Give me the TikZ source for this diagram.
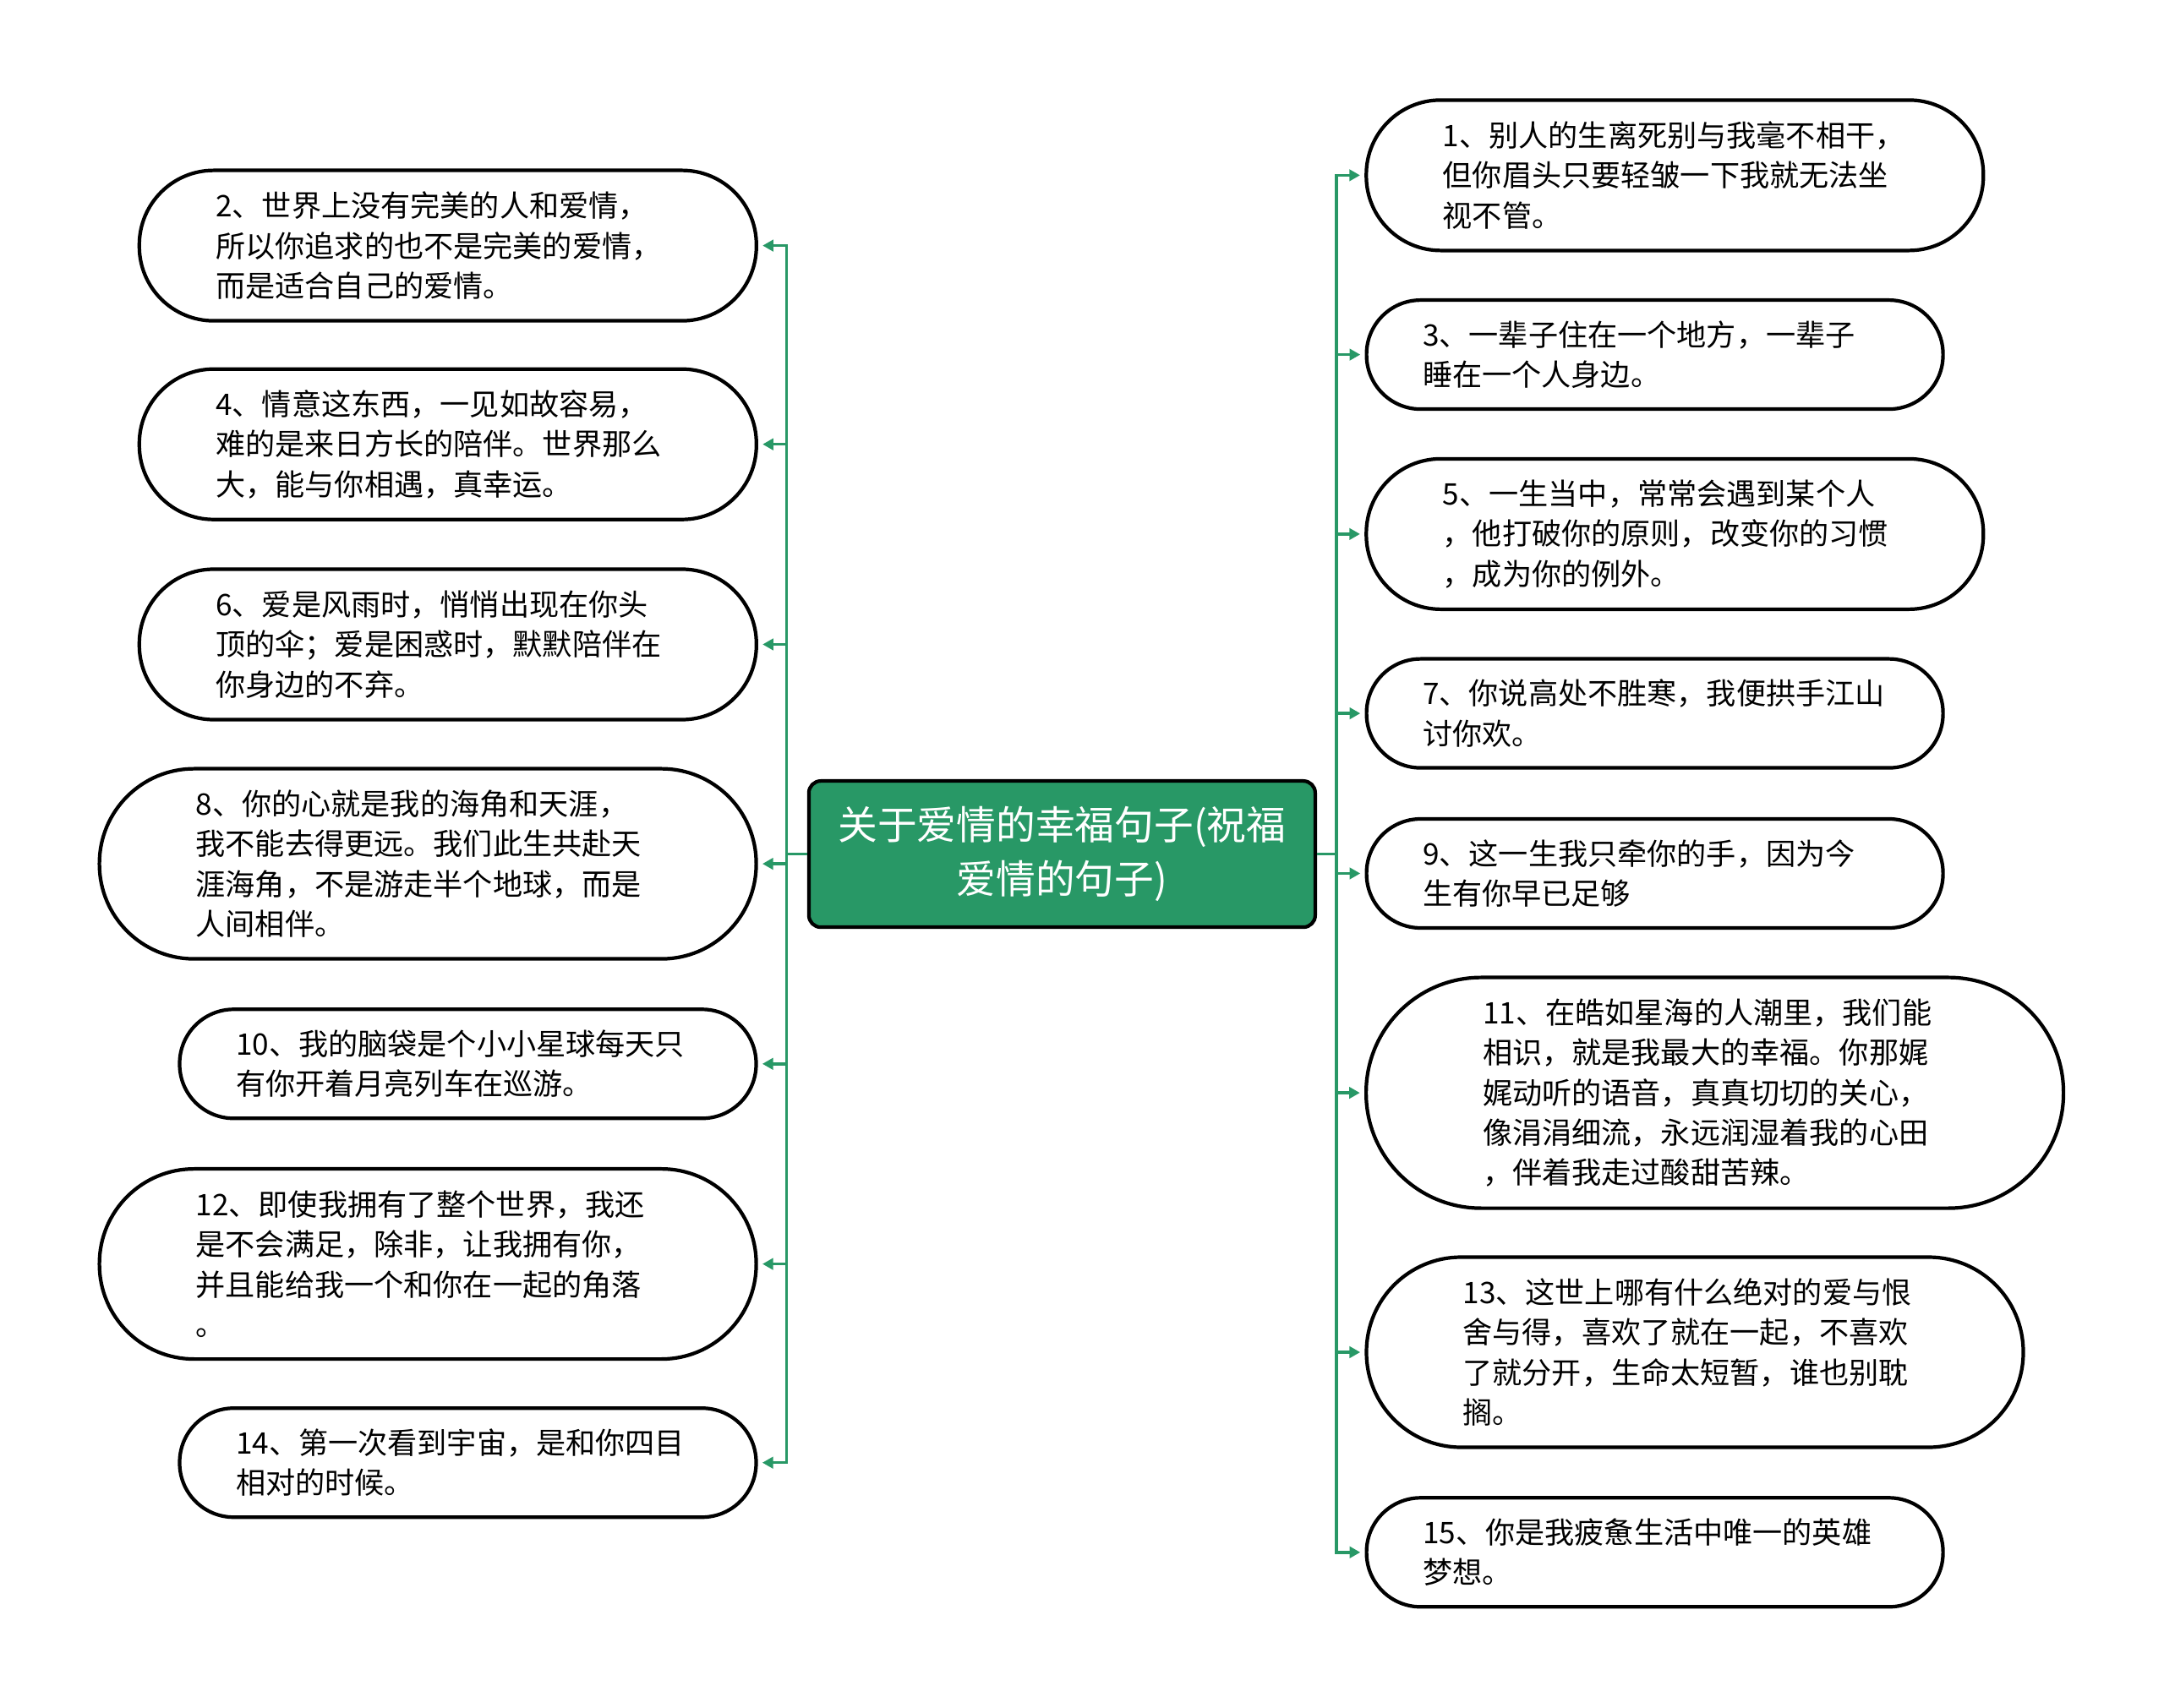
\documentclass[tikz,border=0pt]{standalone}
\usepackage{fontspec}
\setmainfont{Noto Sans CJK SC}
\usepackage{tikz}
\usetikzlibrary{arrows.meta}
\definecolor{leafgreen}{RGB}{40,152,102}
\tikzset{
  leaf/.style={draw, line width=1.2pt, fill=white, rectangle, text width=5.49cm, align=left, inner sep=0pt, font=\fontsize{10pt}{13.5pt}\selectfont},
  two/.style={minimum height=1.29cm, rounded corners=0.64cm},
  three/.style={minimum height=1.78cm, rounded corners=0.88cm},
  four/.style={minimum height=2.25cm, rounded corners=1.12cm},
  five/.style={minimum height=2.73cm, rounded corners=1.36cm},
  link/.style={draw=leafgreen, line width=1pt, shorten >=1.5pt, -{Triangle[length=3.6pt,width=3.8pt]}},
}
\begin{document}
\begin{tikzpicture}
    \useasboundingbox (0,0) rectangle (25.6,-20.21);
    % root
    \node[draw, line width=1.2pt, fill=leafgreen, rounded corners=4pt, minimum width=5.99cm, minimum height=1.73cm, text=white, align=center, font=\fontsize{13.3pt}{18.1pt}\selectfont] (hub) at (12.564,-10.106) {关于爱情的幸福句子(祝福\\爱情的句子)};
    % left side
    \node[leaf, three, minimum width=7.30cm] (n2) at (5.298,-2.906) {2、世界上没有完美的人和爱情，\\所以你追求的也不是完美的爱情，\\而是适合自己的爱情。};
    \node[leaf, three, minimum width=7.30cm] (n4) at (5.298,-5.257) {4、情意这东西，一见如故容易，\\难的是来日方长的陪伴。世界那么\\大，能与你相遇，真幸运。};
    \node[leaf, three, minimum width=7.30cm] (n6) at (5.298,-7.625) {6、爱是风雨时，悄悄出现在你头\\顶的伞；爱是困惑时，默默陪伴在\\你身边的不弃。};
    \node[leaf, four, minimum width=7.77cm] (n8) at (5.061,-10.221) {8、你的心就是我的海角和天涯，\\我不能去得更远。我们此生共赴天\\涯海角，不是游走半个地球，而是\\人间相伴。};
    \node[leaf, two, minimum width=6.82cm] (n10) at (5.535,-12.588) {10、我的脑袋是个小小星球每天只\\有你开着月亮列车在巡游。};
    \node[leaf, four, minimum width=7.77cm] (n12) at (5.061,-14.956) {12、即使我拥有了整个世界，我还\\是不会满足，除非，让我拥有你，\\并且能给我一个和你在一起的角落\\。};
    \node[leaf, two, minimum width=6.82cm] (n14) at (5.535,-17.307) {14、第一次看到宇宙，是和你四目\\相对的时候。};
    % right side
    \node[leaf, three, minimum width=7.30cm] (n1) at (19.813,-2.074) {1、别人的生离死别与我毫不相干，\\但你眉头只要轻皱一下我就无法坐\\视不管。};
    \node[leaf, two, minimum width=6.82cm] (n3) at (19.576,-4.196) {3、一辈子住在一个地方，一辈子\\睡在一个人身边。};
    \node[leaf, three, minimum width=7.30cm] (n5) at (19.813,-6.319) {5、一生当中，常常会遇到某个人\\，他打破你的原则，改变你的习惯\\，成为你的例外。};
    \node[leaf, two, minimum width=6.82cm] (n7) at (19.576,-8.441) {7、你说高处不胜寒，我便拱手江山\\讨你欢。};
    \node[leaf, two, minimum width=6.82cm] (n9) at (19.576,-10.335) {9、这一生我只牵你的手，因为今\\生有你早已足够};
    \node[leaf, five, minimum width=8.25cm] (n11) at (20.286,-12.931) {11、在皓如星海的人潮里，我们能\\相识，就是我最大的幸福。你那娓\\娓动听的语音，真真切切的关心，\\像涓涓细流，永远润湿着我的心田\\，伴着我走过酸甜苦辣。};
    \node[leaf, four, minimum width=7.77cm] (n13) at (20.050,-16.000) {13、这世上哪有什么绝对的爱与恨\\舍与得，喜欢了就在一起，不喜欢\\了就分开，生命太短暂，谁也别耽\\搁。};
    \node[leaf, two, minimum width=6.82cm] (n15) at (19.576,-18.368) {15、你是我疲惫生活中唯一的英雄\\梦想。};
    % left links
    \draw[link] (hub.west) -- ++(-0.245,0) |- (n2.east);
    \draw[link] (hub.west) -- ++(-0.245,0) |- (n4.east);
    \draw[link] (hub.west) -- ++(-0.245,0) |- (n6.east);
    \draw[link] (hub.west) -- ++(-0.245,0) |- (n8.east);
    \draw[link] (hub.west) -- ++(-0.245,0) |- (n10.east);
    \draw[link] (hub.west) -- ++(-0.245,0) |- (n12.east);
    \draw[link] (hub.west) -- ++(-0.245,0) |- (n14.east);
    % right links
    \draw[link] (hub.east) -- ++(0.23,0) |- (n1.west);
    \draw[link] (hub.east) -- ++(0.23,0) |- (n3.west);
    \draw[link] (hub.east) -- ++(0.23,0) |- (n5.west);
    \draw[link] (hub.east) -- ++(0.23,0) |- (n7.west);
    \draw[link] (hub.east) -- ++(0.23,0) |- (n9.west);
    \draw[link] (hub.east) -- ++(0.23,0) |- (n11.west);
    \draw[link] (hub.east) -- ++(0.23,0) |- (n13.west);
    \draw[link] (hub.east) -- ++(0.23,0) |- (n15.west);
\end{tikzpicture}
\end{document}
